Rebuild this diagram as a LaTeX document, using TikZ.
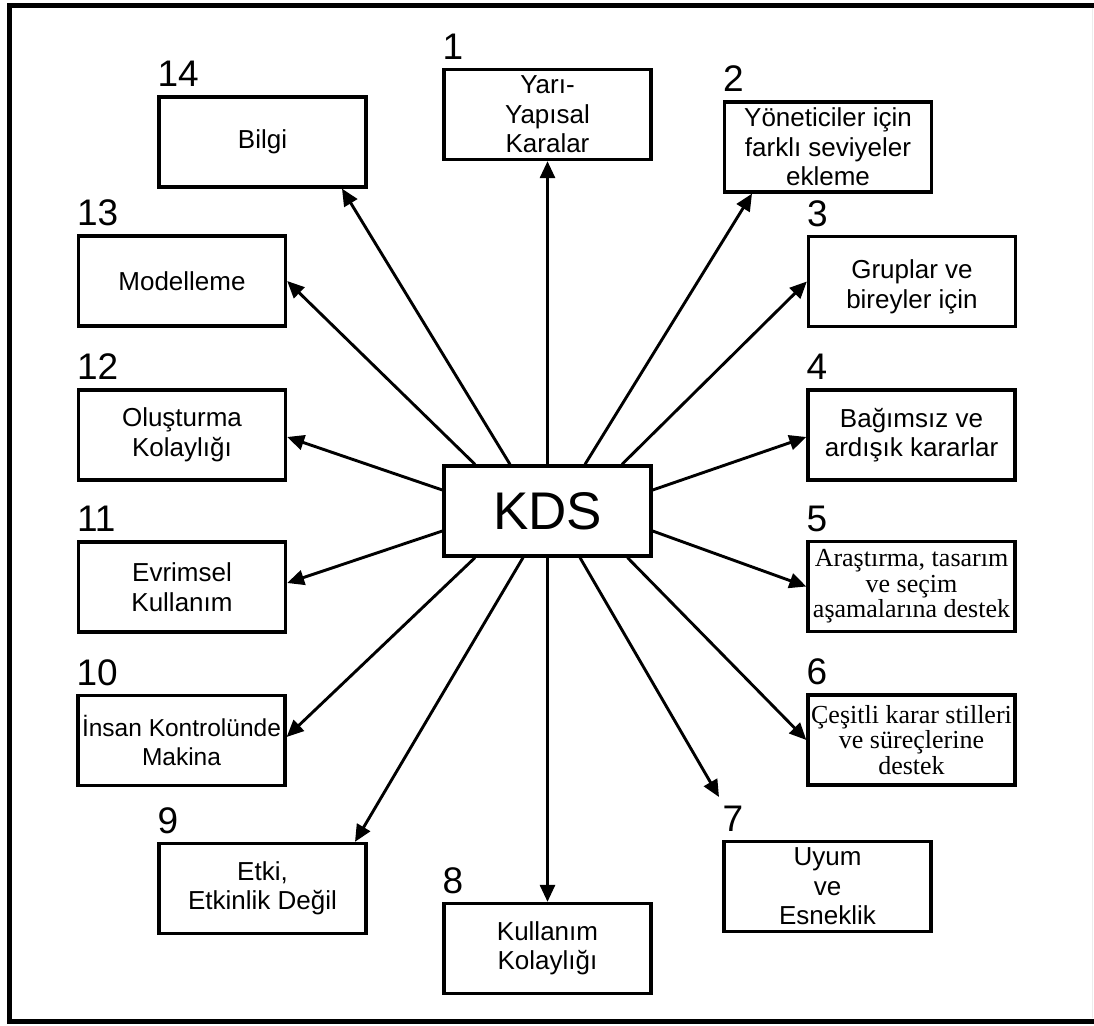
\documentclass[tikz,border=0pt]{standalone}
\usepackage{fontspec}
\setmainfont{Liberation Sans}
\newfontfamily\serifface{Liberation Serif}
\usetikzlibrary{arrows.meta}

\begin{document}
\begin{tikzpicture}[x=1pt,y=-1pt,
  box/.style={draw, fill=white, line width=3.3pt, minimum width=207pt, minimum height=90pt,
              inner sep=0pt, align=center, font=\fontsize{26}{29.5}\selectfont},
  serifbox/.style={box, font=\serifface\fontsize{26}{25.5}\selectfont},
  hub/.style={box, font=\fontsize{53}{53}\selectfont},
  num/.style={anchor=base west, inner sep=0pt, font=\fontsize{37}{37}\selectfont},
  link/.style={line width=2.9pt, -{Triangle[length=17pt,width=15pt]}}
]
\useasboundingbox (0,0) rectangle (1094,1025);

% outer frame (open on the right)
\draw[line width=5.5pt] (1094,5.5) -- (9.5,5.5) -- (9.5,1021.5) -- (1094,1021.5);
\draw[gray!15, line width=0.8pt] (1092,8) -- (1092,1018);

% centre
\node[hub] (kds) at (547.5,511) {KDS};

% surrounding boxes
\node[box] (b1)  at (547.5,114.5) {Yarı-\\Yapısal\\Karalar};
\node[box] (b2)  at (828,147)     {Yöneticiler için\\farklı seviyeler\\ekleme};
\node[box] (b3)  at (912,281.5)   {\mbox{}\\Gruplar ve\\bireyler için};
\node[box] (b4)  at (911.5,435)   {Bağımsız ve\\ardışık kararlar};
\node[serifbox] (b5) at (911.5,586.5) {Araştırma, tasarım\\ve seçim\\aşamalarına destek};
\node[serifbox] (b6) at (911.5,740)   {Çeşitli karar stilleri\\ve süreçlerine\\destek};
\node[box] (b7)  at (827.5,886.5) {Uyum\\ve\\Esneklik};
\node[box] (b8)  at (547.5,948.5) {Kullanım\\Kolaylığı};
\node[box] (b9)  at (262.5,888.5) {Etki,\\Etkinlik Değil};
\node[box, font=\fontsize{24.5}{29.5}\selectfont] (b10) at (181.5,740.5) {İnsan Kontrolünde\\Makina};
\node[box] (b11) at (182,587)     {Evrimsel\\Kullanım};
\node[box] (b12) at (182,435)     {Oluşturma\\Kolaylığı};
\node[box] (b13) at (182,281)     {Modelleme};
\node[box] (b14) at (262.5,142)   {Bilgi};

% numbers above the boxes
\foreach \i in {1,...,14}
  \node[num] (n\i) at ([yshift=8.5pt]b\i.north west) {\i};

% free end of connector 7
\coordinate (c7) at (719,797);

% connectors
\draw[link] (kds.north) -- (b1.south);
\draw[link] ([xshift=37.5pt]kds.north) -- ([xshift=-76pt]b2.south);
\draw[link] ([xshift=74.5pt]kds.north) -- (b3.west);
\draw[link] ([yshift=21pt]kds.east) -- ([yshift=-2pt]b4.west);
\draw[link] ([yshift=-20pt]kds.east) -- (b5.west);
\draw[link] ([xshift=80pt]kds.south) -- (b6.west);
\draw[link] ([xshift=32.5pt]kds.south) -- (c7);
\draw[link] (kds.south) -- (b8.north);
\draw[link] ([xshift=-24.5pt]kds.south) -- ([xshift=92.5pt]b9.north);
\draw[link] ([xshift=-72.5pt]kds.south) -- ([yshift=3.5pt]b10.east);
\draw[link] ([yshift=-20pt]kds.west) -- ([yshift=4pt]b11.east);
\draw[link] ([yshift=21pt]kds.west) -- ([yshift=-2pt]b12.east);
\draw[link] ([xshift=-72.5pt]kds.north) -- (b13.east);
\draw[link] ([xshift=-37.5pt]kds.north) -- ([xshift=79.5pt]b14.south);
\end{tikzpicture}
\end{document}
